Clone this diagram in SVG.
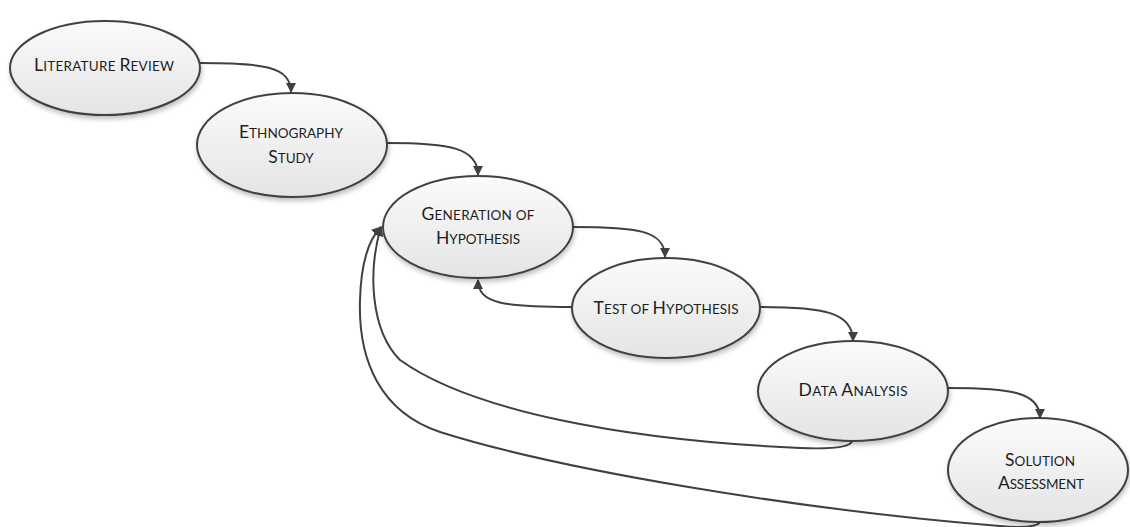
<svg xmlns="http://www.w3.org/2000/svg" width="1130" height="527" viewBox="0 0 1130 527">
<defs>
<linearGradient id="g" x1="0" y1="0" x2="0" y2="1">
<stop offset="0" stop-color="#fbfbfb"/>
<stop offset="1" stop-color="#e4e4e4"/>
</linearGradient>
<filter id="sh" x="-20%" y="-20%" width="140%" height="150%">
<feGaussianBlur in="SourceAlpha" stdDeviation="2.5"/>
<feOffset dx="1" dy="3" result="b"/>
<feComponentTransfer><feFuncA type="linear" slope="0.25"/></feComponentTransfer>
<feMerge><feMergeNode/><feMergeNode in="SourceGraphic"/></feMerge>
</filter>
<marker id="ah" viewBox="0 0 10 10" refX="9" refY="5" markerWidth="10" markerHeight="10" markerUnits="userSpaceOnUse" orient="auto">
<path d="M0,0 L10,5 L0,10 z" fill="#404040"/>
</marker>
</defs>
<style>
.n ellipse{fill:url(#g);stroke:#404040;stroke-width:2;filter:url(#sh)}
.n text{font-family:Lato,"Open Sans","Liberation Sans",sans-serif;fill:#1e1e1e;text-anchor:middle;font-size:13.5px}
.n .c{font-size:17.5px}
#edges path{fill:none;stroke:#404040;stroke-width:2;marker-end:url(#ah)}
</style>
<rect width="1130" height="527" fill="#ffffff"/>
<g id="edges">
<path d="M200,63 C262,63 291,66 291,92"/>
<path d="M387,143 C450,143 478,148 478,175"/>
<path d="M573,227 C636,227 665,230 665,257"/>
<path d="M572,307 C505,307 478,304 478,280"/>
<path d="M760,307 C823,307 853,312 853,341"/>
<path d="M948,388 C1010,388 1040,392 1040,418"/>
<path d="M852,441 Q850,450 800,448 C620,440 470,410 400,360 C370,330 368,270 381,227"/>
<path d="M1040,522 Q1036,529 1000,526 C800,510 560,470 440,432 C380,412 358,360 360,300 C361,265 368,240 381,227"/>
</g>
<g id="n1" class="n">
<ellipse cx="105" cy="68" rx="95" ry="47"/>
<text x="104" y="71" textLength="140" lengthAdjust="spacing"><tspan class="c">L</tspan>ITERATURE <tspan class="c">R</tspan>EVIEW</text>
</g>
<g id="n2" class="n">
<ellipse cx="292" cy="145" rx="95" ry="52"/>
<text x="291" y="138" textLength="104" lengthAdjust="spacing"><tspan class="c">E</tspan>THNOGRAPHY</text>
<text x="291" y="163"><tspan class="c">S</tspan>TUDY</text>
</g>
<g id="n3" class="n">
<ellipse cx="478" cy="227" rx="95" ry="51"/>
<text x="478" y="220" textLength="113" lengthAdjust="spacing"><tspan class="c">G</tspan>ENERATION OF</text>
<text x="478" y="244" textLength="84" lengthAdjust="spacing"><tspan class="c">H</tspan>YPOTHESIS</text>
</g>
<g id="n4" class="n">
<ellipse cx="666" cy="308" rx="94" ry="50"/>
<text x="666" y="314" textLength="145" lengthAdjust="spacing"><tspan class="c">T</tspan>EST OF <tspan class="c">H</tspan>YPOTHESIS</text>
</g>
<g id="n5" class="n">
<ellipse cx="853" cy="391" rx="95" ry="50"/>
<text x="853" y="396" textLength="109" lengthAdjust="spacing"><tspan class="c">D</tspan>ATA <tspan class="c">A</tspan>NALYSIS</text>
</g>
<g id="n6" class="n">
<ellipse cx="1038" cy="470" rx="90" ry="52"/>
<text x="1040" y="466" textLength="70" lengthAdjust="spacing"><tspan class="c">S</tspan>OLUTION</text>
<text x="1041" y="489" textLength="86" lengthAdjust="spacing"><tspan class="c">A</tspan>SSESSMENT</text>
</g>
</svg>
